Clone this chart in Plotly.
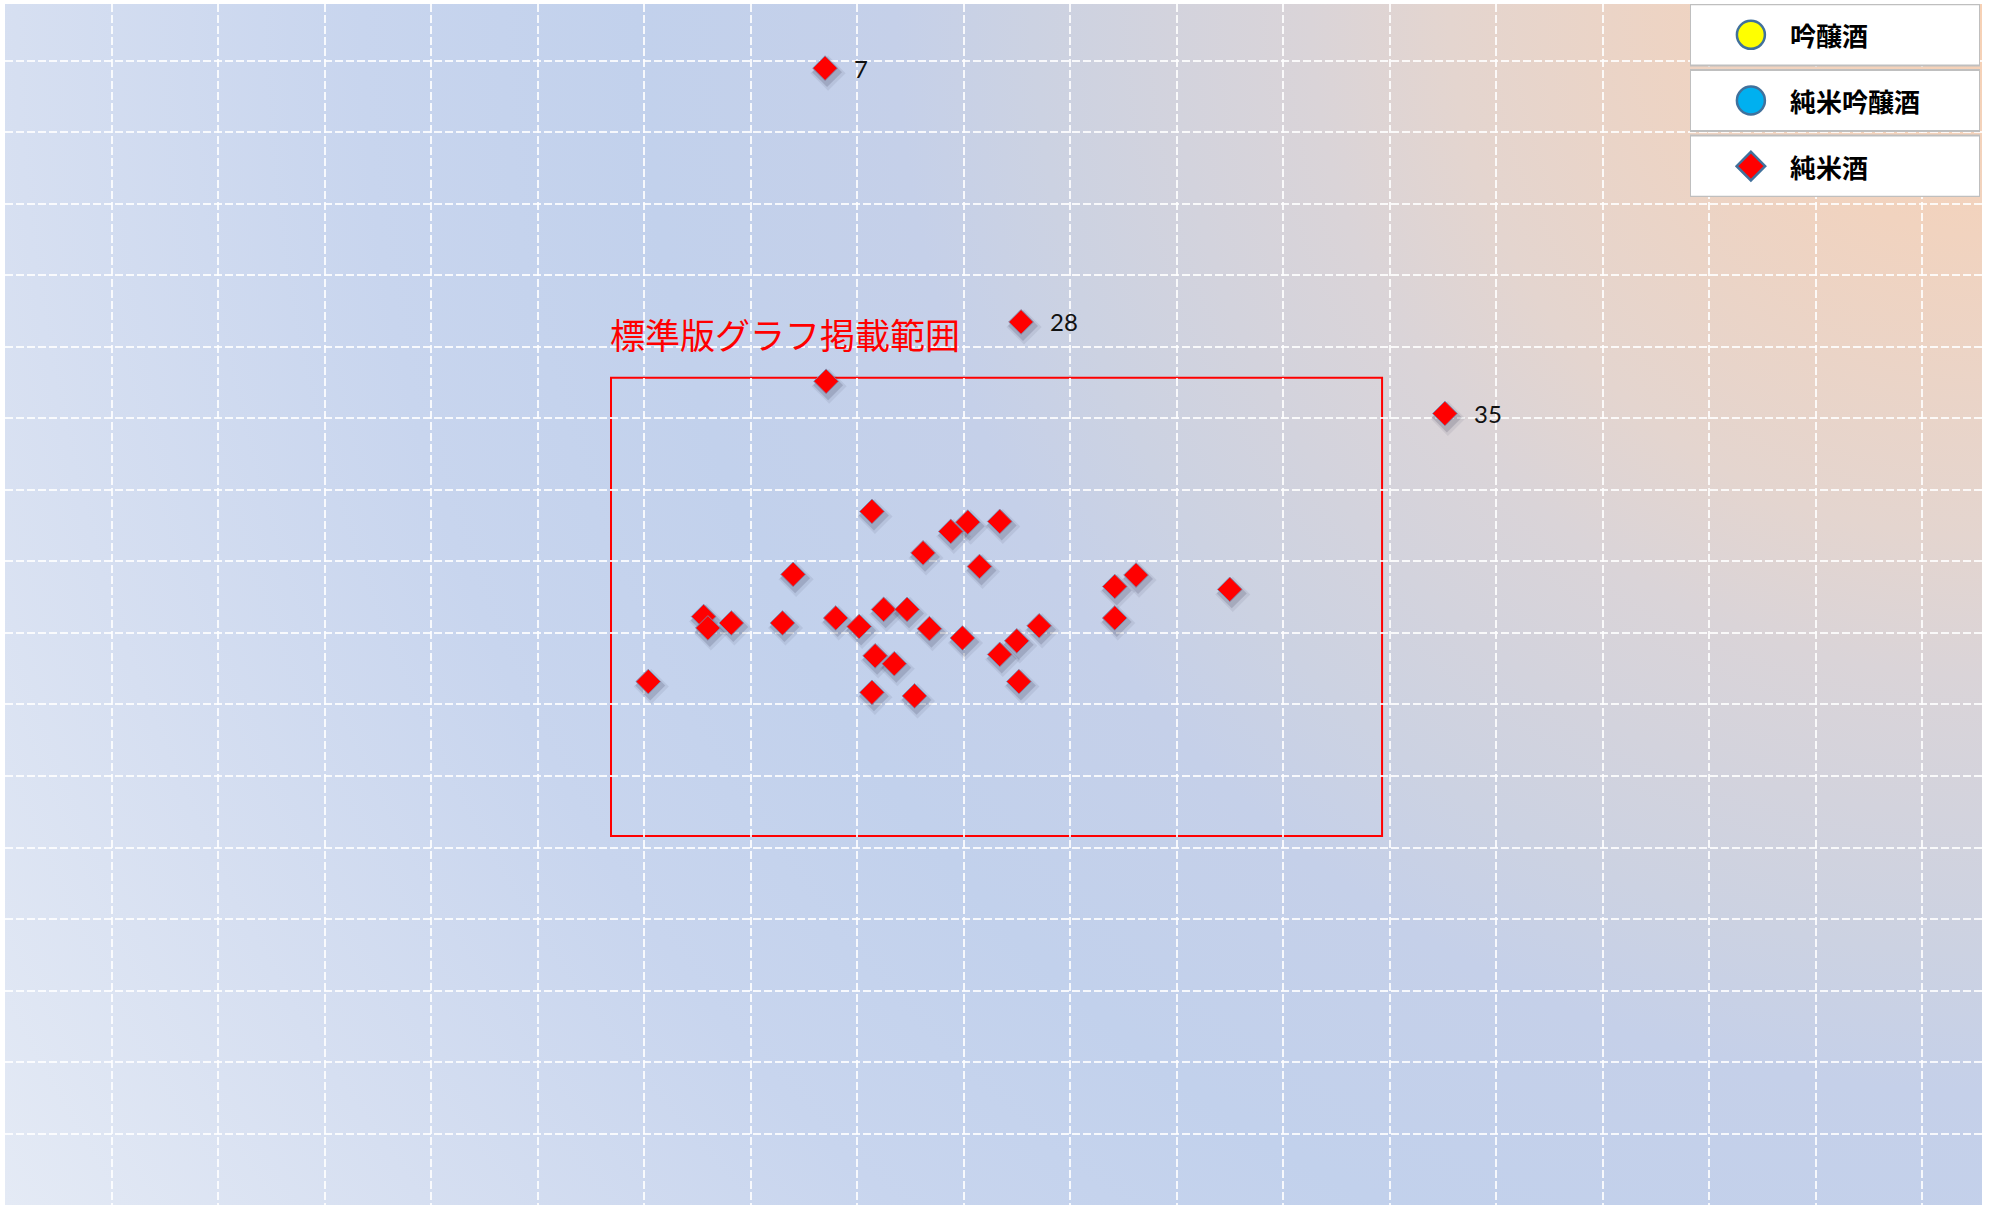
import base64
import plotly.graph_objects as go

# ---------------- data ----------------
# 純米酒 series (x, y in chart units; one unit = one grid cell)
JUNMAI_X = [6.04, 6.56, 6.60, 6.82, 7.40, 7.30, 7.80, 8.02, 8.14, 8.25,
            8.47, 8.17, 8.35, 8.14, 8.54, 8.62, 8.88, 9.04, 9.34, 9.15,
            8.68, 8.99, 9.34, 9.50, 9.71, 9.52, 10.42, 10.62, 10.42, 11.50,
            7.71, 7.70, 9.54, 13.52]
JUNMAI_Y = [7.32, 8.23, 8.07, 8.14, 8.82, 8.14, 8.21, 8.09, 9.70, 8.33,
            8.33, 7.68, 7.57, 7.17, 7.12, 9.12, 9.42, 9.55, 9.56, 8.93,
            8.06, 7.93, 7.70, 7.89, 8.10, 7.32, 8.65, 8.81, 8.21, 8.61,
            11.52, 15.90, 12.35, 11.07]
JUNMAI_LABELS = [""] * 31 + ["7", "28", "35"]

# legend entries
LEGEND_NAMES = ["吟醸酒", "純米吟醸酒", "純米酒"]
LEGEND_COLORS = ["#ffff00", "#00b0f0", "#ff0000"]
LEGEND_SYMBOLS = ["circle", "circle", "diamond"]
LEGEND_SIZES = [28, 28, 22]

RANGE_LABEL = "標準版グラフ掲載範囲"
RANGE_BOX_X = [5.69, 12.93]
RANGE_BOX_Y = [5.16, 11.57]

X_RANGE = [0, 18.563]
Y_RANGE = [0, 16.797]

# ---------------- layout geometry ----------------
W, H = 1992, 1206
ML, MR, MT, MB = 5, 10, 4, 1
PW, PH = W - ML - MR, H - MT - MB

# radial background gradient (from top-right corner)
stops = [(0.00, "#f7d1b5"), (0.10, "#f1d3bf"), (0.23, "#e4d5cf"),
         (0.29, "#dad4d8"), (0.41, "#ccd2e2"), (0.47, "#c5d0e9"),
         (0.58, "#c2d1ec"), (0.70, "#c8d5ee"), (0.85, "#d6dff1"),
         (1.00, "#e4eaf5")]
r = (PW ** 2 + PH ** 2) ** 0.5
svg = (f"<svg xmlns='http://www.w3.org/2000/svg' width='{PW}' height='{PH}' "
       f"viewBox='0 0 {PW} {PH}' preserveAspectRatio='none'><defs>"
       f"<radialGradient id='g' gradientUnits='userSpaceOnUse' cx='{PW}' cy='0' r='{r:.0f}'>"
       + "".join(f"<stop offset='{o}' stop-color='{c}'/>" for o, c in stops)
       + f"</radialGradient></defs><rect width='{PW}' height='{PH}' fill='url(#g)'/></svg>")
bg_uri = "data:image/svg+xml;base64," + base64.b64encode(svg.encode()).decode()

fig = go.Figure()

# soft shadows under the diamonds (same data, small pixel offset)
px_x = (X_RANGE[1] - X_RANGE[0]) / PW
px_y = (Y_RANGE[1] - Y_RANGE[0]) / PH
for size, alpha, dx, dy in [(27, 0.08, 3, 5), (23, 0.16, 2, 4)]:
    fig.add_trace(go.Scatter(
        x=[v + dx * px_x for v in JUNMAI_X],
        y=[v - dy * px_y for v in JUNMAI_Y],
        mode="markers", hoverinfo="skip", showlegend=False,
        marker=dict(symbol="diamond", size=size,
                    color=f"rgba(40,40,60,{alpha})", line=dict(width=0))))

fig.add_trace(go.Scatter(
    x=JUNMAI_X, y=JUNMAI_Y, mode="markers", name=LEGEND_NAMES[2],
    showlegend=False,
    marker=dict(symbol="diamond", size=19, color="#ff0000", opacity=1,
                line=dict(color="rgba(120,140,175,0.9)", width=1))))

# point labels
for x, y, t in zip(JUNMAI_X, JUNMAI_Y, JUNMAI_LABELS):
    if t:
        fig.add_annotation(x=x, y=y, xref="x", yref="y", text=t,
                           showarrow=False, xanchor="left", yanchor="middle",
                           xshift=27, font=dict(family="Lato", size=24, color="#111111"))

# standard graph range box
fig.add_shape(type="rect", xref="x", yref="y",
              x0=RANGE_BOX_X[0], x1=RANGE_BOX_X[1],
              y0=RANGE_BOX_Y[0], y1=RANGE_BOX_Y[1],
              line=dict(color="#ff0000", width=2), layer="below")
fig.add_annotation(xref="paper", yref="paper", x=(608 - ML) / PW,
                   y=1 - (333 - MT) / PH, text=RANGE_LABEL, showarrow=False,
                   xanchor="left", yanchor="middle",
                   font=dict(family="Noto Sans CJK JP", size=35, color="#ff0000"))

# custom legend on its own small axes
leg_idx = list(range(len(LEGEND_NAMES)))
fig.add_trace(go.Scatter(
    x=[0.21] * len(LEGEND_NAMES), y=leg_idx, xaxis="x2", yaxis="y2",
    mode="markers", showlegend=False, hoverinfo="skip",
    marker=dict(symbol=LEGEND_SYMBOLS, size=LEGEND_SIZES, color=LEGEND_COLORS,
                opacity=1, line=dict(color="#41719c", width=2.5))))
for i, name in zip(leg_idx, LEGEND_NAMES):
    fig.add_shape(type="rect", xref="x2", yref="y2", x0=0, x1=1,
                  y0=i - 0.465, y1=i + 0.465, fillcolor="#ffffff", opacity=1,
                  line=dict(color="#bfbfbf", width=2), layer="below")
    fig.add_annotation(xref="x2", yref="y2", x=0.338, y=i, text=name,
                       showarrow=False, xanchor="left", yanchor="middle",
                       font=dict(family="Noto Sans CJK JP", size=26,
                                 color="#000000", weight="bold"))

grid = dict(showgrid=True, gridcolor="rgba(255,255,255,0.85)", gridwidth=1.5,
            griddash="8px,3px", dtick=1, tick0=0, zeroline=False,
            showticklabels=False, ticks="", showline=False, fixedrange=True)

fig.update_layout(
    width=W, height=H,
    margin=dict(l=ML, r=MR, t=MT, b=MB),
    paper_bgcolor="#ffffff", plot_bgcolor="rgba(0,0,0,0)",
    xaxis=dict(range=X_RANGE, **grid),
    yaxis=dict(range=Y_RANGE, **grid),
    xaxis2=dict(domain=[(1690 - ML) / PW, (1980 - ML) / PW], range=[0, 1],
                anchor="y2", visible=False, fixedrange=True),
    yaxis2=dict(domain=[1 - (197 - MT) / PH, 1.0], range=[2.47, -0.47],
                anchor="x2", visible=False, fixedrange=True),
    images=[dict(source=bg_uri, xref="paper", yref="paper", x=0, y=1,
                 sizex=1, sizey=1, xanchor="left", yanchor="top",
                 sizing="stretch", layer="below")],
    showlegend=False,
)

fig.write_html("out.html",
               config={"displayModeBar": False},
               post_script="document.body.style.margin='0';"
                           "document.body.style.overflow='hidden';")
